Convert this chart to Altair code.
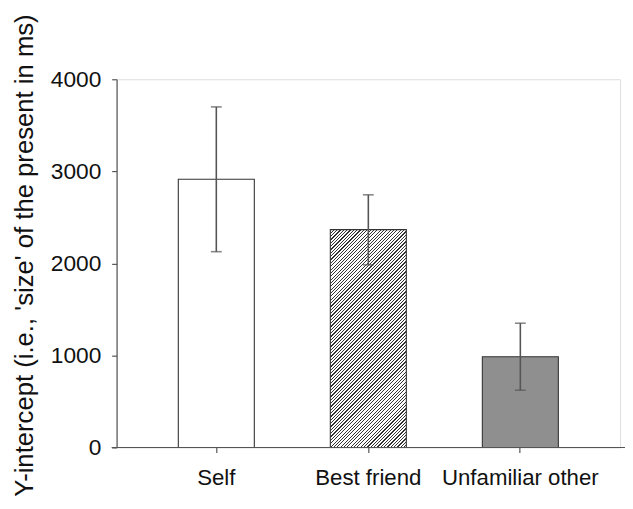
import math
import altair as alt
import pandas as pd

categories = ["Self", "Best friend", "Unfamiliar other"]
means = [2914, 2367, 985]
err_low = [2127, 1984, 622]
err_high = [3700, 2745, 1350]

W, H = 510, 373
YMAX = 4000
FONT = "Liberation Sans, Arial, sans-serif"

df = pd.DataFrame({"cat": categories, "mean": means, "lo": err_low, "hi": err_high})

x_enc = alt.X("cat:N", sort=categories,
              scale=alt.Scale(paddingInner=0.5, paddingOuter=0.406),
              axis=alt.Axis(title=None, labelAngle=0, domain=False, ticks=True,
                            tickSize=5, tickColor="#555", tickWidth=1.2,
                            labelFontSize=22.5, labelFont=FONT, labelColor="#111",
                            labelPadding=14))
y_scale = alt.Scale(domain=[0, YMAX], nice=False)
y_axis = alt.Axis(title="Y-intercept (i.e., 'size' of the present in ms)",
                  values=[0, 1000, 2000, 3000, 4000], format="d", grid=False,
                  domainColor="#555", domainWidth=1.2, tickColor="#555", tickWidth=1.2,
                  tickSize=5, labelFontSize=23, labelFont=FONT, labelColor="#111",
                  labelPadding=11, titleFontSize=26, titleFont=FONT,
                  titleFontWeight="normal", titleColor="#111",
                  titleX=-85, titleY=178, titleAngle=-90, titleAlign="center",
                  titleBaseline="alphabetic")


def hatch_gradient(value):
    # diagonal "/" stripes emulated with a hard-stop linear gradient
    bw = W / (len(categories) - 0.5 + 2 * 0.406) * 0.5
    bh = value / YMAX * H
    k = (bw + bh) * bh / (bw ** 2 + bh ** 2)
    length = (bw + bh) / math.sqrt(2)
    period = 2.4
    n = int(length / period) + 1
    dt = 1.0 / n
    stops = []
    for i in range(n):
        t0 = i * dt
        t1 = t0 + dt * 0.38
        t2 = (i + 1) * dt
        stops += [
            {"offset": round(t0, 5), "color": "#333333"},
            {"offset": round(t1, 5), "color": "#333333"},
            {"offset": round(t1, 5), "color": "#ffffff"},
            {"offset": round(min(t2, 1.0), 5), "color": "#ffffff"},
        ]
    return {"gradient": "linear", "x1": 0, "y1": 0,
            "x2": k * bw / bh, "y2": k, "stops": stops}


fills = ["#ffffff", hatch_gradient(means[1]), "#8f8f8f"]

base = alt.Chart(df)
bar_layers = []
for cat, fill in zip(categories, fills):
    bar_layers.append(
        base.transform_filter(alt.datum.cat == cat)
        .mark_bar(fill=fill, stroke="#333333", strokeWidth=1.1)
        .encode(x=x_enc, y=alt.Y("mean:Q", scale=y_scale, axis=y_axis))
    )

baseline = alt.Chart(pd.DataFrame({"z": [0]})).mark_rule(color="#555", strokeWidth=1.2).encode(
    y=alt.Y("z:Q", scale=y_scale, axis=y_axis),
    x=alt.value(-5), x2=alt.value(W + 5))

err = base.mark_rule(color="#555", strokeWidth=1.6).encode(
    x=x_enc, y=alt.Y("lo:Q", scale=y_scale, axis=y_axis), y2="hi:Q")
cap_lo = base.mark_tick(color="#555", size=11, thickness=1.6).encode(
    x=x_enc, y=alt.Y("lo:Q", scale=y_scale, axis=y_axis))
cap_hi = base.mark_tick(color="#555", size=11, thickness=1.6).encode(
    x=x_enc, y=alt.Y("hi:Q", scale=y_scale, axis=y_axis))

chart = alt.layer(*bar_layers, baseline, err, cap_lo, cap_hi).properties(
    width=W, height=H,
    autosize=alt.AutoSizeParams(type="none"),
    padding={"left": 110, "top": 69, "right": 5, "bottom": 51},
).configure_view(stroke=None).configure(background="white")

chart.save("out.html", embed_options={"renderer": "svg", "actions": False})
